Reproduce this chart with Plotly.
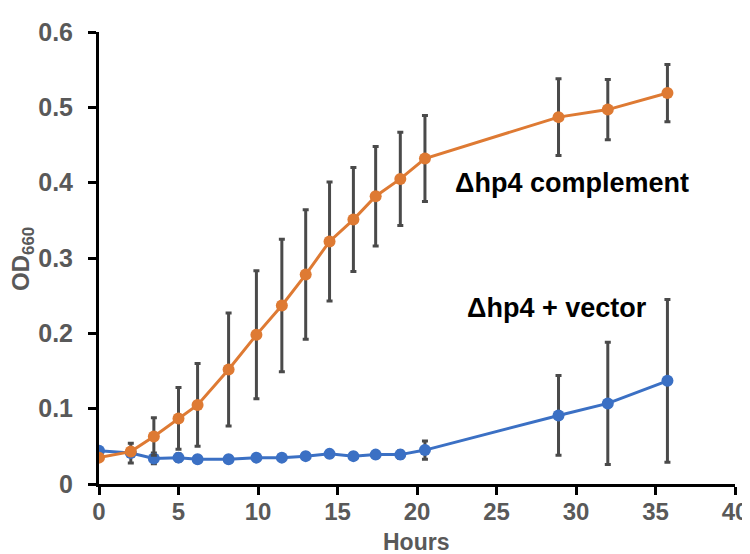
import plotly.graph_objects as go

hours = [0, 2, 3.45, 5, 6.2, 8.15, 9.9, 11.5, 13, 14.5, 16, 17.4, 18.95, 20.5, 28.9, 32, 35.75]

vector_od = [0.044, 0.041, 0.034, 0.035, 0.033, 0.033, 0.035, 0.035, 0.037, 0.040,
             0.037, 0.039, 0.039, 0.045, 0.091, 0.107, 0.137]
vector_err = [0.004, 0.013, 0.007, 0.005, 0.004, 0.004, 0.004, 0.004, 0.004, 0.004,
              0.004, 0.004, 0.005, 0.012, 0.053, 0.081, 0.108]

complement_od = [0.035, 0.043, 0.063, 0.087, 0.105, 0.152, 0.198, 0.237, 0.278, 0.322,
                 0.351, 0.382, 0.405, 0.432, 0.487, 0.497, 0.519]
complement_err = [0.003, 0.004, 0.025, 0.041, 0.055, 0.075, 0.085, 0.088, 0.086, 0.079,
                  0.069, 0.066, 0.062, 0.057, 0.051, 0.040, 0.038]

x_ticks = [0, 5, 10, 15, 20, 25, 30, 35, 40]
y_ticks = [0, 0.1, 0.2, 0.3, 0.4, 0.5, 0.6]
y_tick_text = ["0", "0.1", "0.2", "0.3", "0.4", "0.5", "0.6"]

FONT = "Liberation Sans, Arial, sans-serif"
GRAY = "#595959"
ERR = "#4a4a4a"

# plot area in pixels (for annotation placement)
L, R, T, B = 91, 735, 10, 476
W, H = R - L, B - T


def px(xp):
    return (xp - L) / W


def py(yp):
    return (B - yp) / H


fig = go.Figure()

fig.add_trace(go.Scatter(
    x=hours, y=vector_od, mode="lines+markers",
    line=dict(color="#3B70C4", width=3),
    marker=dict(color="#3B70C4", size=12),
    error_y=dict(type="data", array=vector_err, visible=True,
                 color=ERR, thickness=3, width=3),
    showlegend=False,
))

fig.add_trace(go.Scatter(
    x=hours, y=complement_od, mode="lines+markers",
    line=dict(color="#DE7A33", width=3),
    marker=dict(color="#DE7A33", size=12),
    error_y=dict(type="data", array=complement_err, visible=True,
                 color=ERR, thickness=3, width=3),
    showlegend=False,
))

fig.update_xaxes(
    range=[0, 40], tickvals=x_ticks,
    showline=True, linecolor="black", linewidth=3,
    ticks="outside", ticklen=8, tickwidth=3, tickcolor="black",
    showgrid=False, zeroline=False,
    tickfont=dict(family=FONT, size=24, color=GRAY, weight="bold"),
    ticklabelstandoff=-4, ticklabeloverflow="allow",
)
fig.update_yaxes(
    range=[0, 0.6], tickvals=y_ticks, ticktext=y_tick_text,
    showline=True, linecolor="black", linewidth=3,
    ticks="outside", ticklen=8, tickwidth=3, tickcolor="black",
    showgrid=False, zeroline=False,
    tickfont=dict(family=FONT, size=25, color=GRAY, weight="bold"),
    ticklabelstandoff=10, ticklabeloverflow="allow",
)

fig.add_annotation(
    text="Hours", xref="paper", yref="paper", x=px(412), y=py(536),
    xanchor="center", yanchor="middle", showarrow=False,
    font=dict(family=FONT, size=23, color=GRAY, weight="bold"),
)
fig.add_annotation(
    text="OD<sub>660</sub>", xref="paper", yref="paper", x=px(14), y=py(244),
    xanchor="center", yanchor="middle", showarrow=False, textangle=-90,
    font=dict(family=FONT, size=24, color=GRAY, weight="bold"),
)
fig.add_annotation(
    text="Δhp4 complement", xref="paper", yref="paper",
    x=px(570), y=py(166),
    xanchor="center", yanchor="middle", showarrow=False,
    font=dict(family=FONT, size=27, color="black", weight="bold"),
)
fig.add_annotation(
    text="Δhp4 + vector", xref="paper", yref="paper",
    x=px(555), y=py(295),
    xanchor="center", yanchor="middle", showarrow=False,
    font=dict(family=FONT, size=27, color="black", weight="bold"),
)

fig.update_layout(
    width=750, height=554,
    margin=dict(l=L, r=750 - R, t=T, b=554 - B),
    plot_bgcolor="white", paper_bgcolor="white",
)

fig.write_html("out.html")
